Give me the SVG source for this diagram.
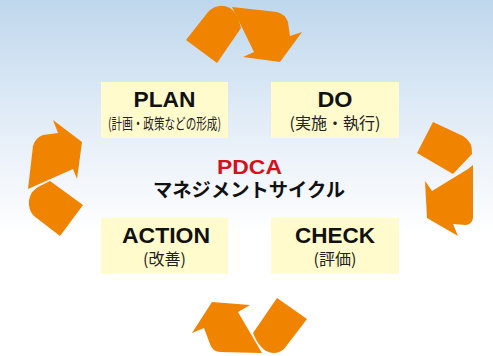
<svg xmlns="http://www.w3.org/2000/svg" width="493" height="356" viewBox="0 0 493 356">
<defs>
<linearGradient id="bg" x1="0" y1="0" x2="0" y2="1">
<stop offset="0" stop-color="#bfd7ec"/>
<stop offset="0.25" stop-color="#d9e7f5"/>
<stop offset="0.45" stop-color="#edf3fa"/>
<stop offset="0.66" stop-color="#ffffff"/>
<stop offset="1" stop-color="#ffffff"/>
</linearGradient>
<style>
.box{fill:#fffbcc}
.arr{fill:#f08400}
.t{font-family:"Liberation Sans",Arial,sans-serif;font-weight:bold;fill:#111;text-anchor:middle}
.s{font-family:"Noto Sans CJK JP","Noto Sans",sans-serif;fill:#222;text-anchor:middle}
.k{font-family:"Noto Sans CJK JP","Noto Sans",sans-serif;font-weight:bold;fill:#111;text-anchor:middle}
</style>
</defs>
<rect width="493" height="356" fill="url(#bg)"/>
<g id="connectors">
<path class="arr" d="M186,40 L208,12 Q218,2 230,8 Q238,13 241,28 L217,63 Z"/>
<path class="arr" d="M232,7 L277,12 Q285,14 288,22 L290,36 L302,32 L280,62 L243,57 L254,52 Z"/>
<path class="arr" d="M433,122 L463,136 Q473,142 472,154 L453,174 L417,153 Z"/>
<path class="arr" d="M425,181 L432,191 L468,169 L473,165 L473,218 Q472,224 466,225 L453,224 L458,236 L427,218 Z"/>
<path class="arr" d="M277,298 L307,319 L284,349 Q276,356 266,351 Q258,346 253,333 Z"/>
<path class="arr" d="M212,302 L250,305 L238,312 L262,353 L220,352 Q212,351 210,344 L204,328 L192,333 Z"/>
<path class="arr" d="M50,181 L83,205 L60,236 L34,216 Q28,210 29,200 Q31,190 40,186 Z"/>
<path class="arr" d="M53,120 L82,142 L77,179 L73,169 L28,189 L33,146 Q35,138 43,135 L58,133 Z"/>
</g>
<g id="plan">
<rect class="box" x="101" y="82" width="127" height="56"/>
<text class="t" x="164.5" y="107" font-size="22" textLength="62" lengthAdjust="spacingAndGlyphs">PLAN</text>
<text class="s" x="164.5" y="129" font-size="15" textLength="113" lengthAdjust="spacingAndGlyphs">(計画・政策などの形成)</text>
</g>
<g id="do">
<rect class="box" x="271" y="82" width="128" height="56"/>
<text class="t" x="335" y="107" font-size="22" textLength="35" lengthAdjust="spacingAndGlyphs">DO</text>
<text class="s" x="335" y="129" font-size="16">(実施・執行)</text>
</g>
<g id="center">
<text class="t" x="249.5" y="174" font-size="20" style="fill:#d5121b" textLength="65" lengthAdjust="spacingAndGlyphs">PDCA</text>
<text class="k" x="249" y="197" font-size="19" textLength="192" lengthAdjust="spacingAndGlyphs">マネジメントサイクル</text>
</g>
<g id="action">
<rect class="box" x="101" y="218" width="127" height="56"/>
<text class="t" x="166" y="243" font-size="22" textLength="88" lengthAdjust="spacingAndGlyphs">ACTION</text>
<text class="s" x="164.5" y="265" font-size="16">(改善)</text>
</g>
<g id="check">
<rect class="box" x="271" y="218" width="128" height="56"/>
<text class="t" x="335" y="243" font-size="22" textLength="80" lengthAdjust="spacingAndGlyphs">CHECK</text>
<text class="s" x="335" y="265" font-size="16">(評価)</text>
</g>
</svg>
